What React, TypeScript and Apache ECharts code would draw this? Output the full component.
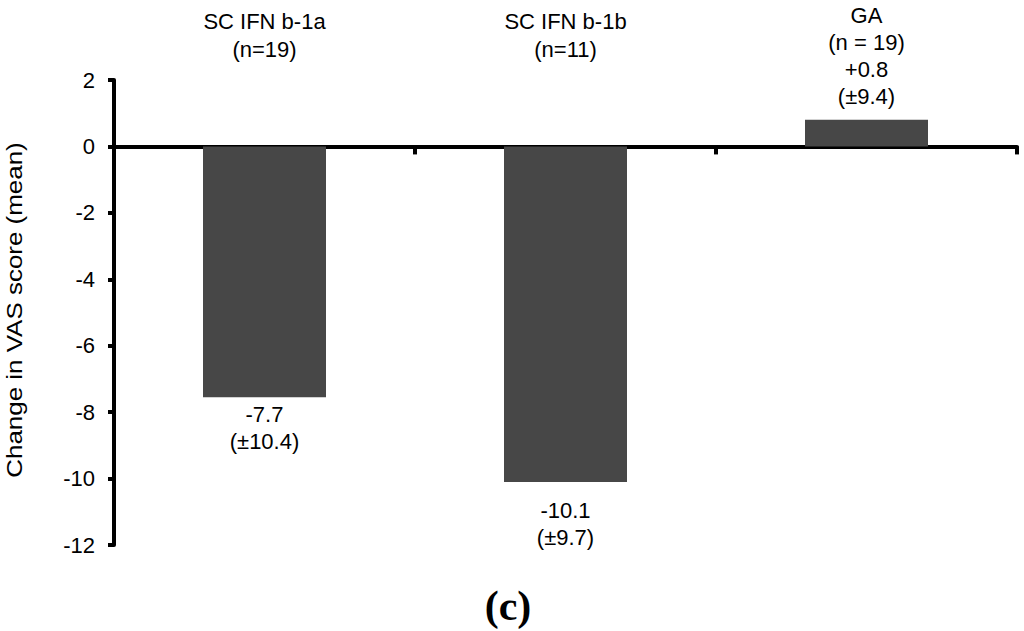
import React, { useEffect, useRef } from "react";
import * as echarts from "echarts";

const categories = ["SC IFN b-1a", "SC IFN b-1b", "GA"];
const groupSizes = ["(n=19)", "(n=11)", "(n = 19)"];
const barValues = [-7.55, -10.1, 0.8];
const meanLabels = ["-7.7", "-10.1", "+0.8"];
const sdLabels = ["(±10.4)", "(±9.7)", "(±9.4)"];
const yTicks = { min: -12, max: 2, interval: 2 };
const yAxisTitle = "Change in VAS score (mean)";
const panelLabel = "(c)";

const FONT = "Liberation Sans";

export default function App() {
  const ref = useRef<HTMLDivElement>(null);
  useEffect(() => {
    if (!ref.current) return;
    const chart = echarts.init(ref.current, null, { renderer: "svg" });
    const labelItems = barValues.map((v, i) => {
      const isTop = v >= 0;
      return {
        value: v,
        label: {
          position: isTop ? "top" : "bottom",
          distance: isTop ? 10 : i === 0 ? 4 : 15,
        },
      };
    });
    chart.setOption({
      animation: false,
      grid: { left: 114, right: 7, top: 80, bottom: 86, containLabel: false },
      xAxis: [
        {
          type: "category",
          data: categories,
          position: "bottom",
          axisLine: { onZero: true, lineStyle: { color: "#000", width: 4 } },
          axisTick: { show: true, length: 8, lineStyle: { color: "#000", width: 4 } },
          axisLabel: { show: false },
          splitLine: { show: false },
        },
        {
          type: "category",
          data: categories,
          position: "top",
          axisLine: { show: false, onZero: false },
          axisTick: { show: false },
          splitLine: { show: false },
          axisLabel: {
            show: true,
            margin: 17,
            fontFamily: FONT,
            fontSize: 22,
            lineHeight: 28,
            color: "#000",
            formatter: (val: string, idx: number) =>
              barValues[idx] < 0 ? `${val}\n${groupSizes[idx]}` : "",
          },
        },
      ],
      yAxis: {
        type: "value",
        min: yTicks.min,
        max: yTicks.max,
        interval: yTicks.interval,
        axisLine: { show: true, lineStyle: { color: "#000", width: 4 } },
        axisTick: { show: true, length: 6, lineStyle: { color: "#000", width: 4 } },
        splitLine: { show: false },
        axisLabel: {
          margin: 19,
          fontFamily: FONT,
          fontSize: 22,
          color: "#000",
        },
      },
      graphic: [
        {
          type: "text",
          x: 14,
          y: 310,
          rotation: Math.PI / 2,
          scaleX: 1.18,
          style: {
            text: yAxisTitle,
            font: `22px "${FONT}"`,
            fill: "#000",
            textAlign: "center",
            textVerticalAlign: "middle",
          },
        },
        {
          type: "text",
          x: 508,
          y: 606,
          style: {
            text: panelLabel,
            font: `bold 42px "Liberation Serif"`,
            fill: "#000",
            textAlign: "center",
            textVerticalAlign: "middle",
          },
        },
      ],
      series: [
        {
          type: "bar",
          xAxisIndex: 0,
          data: barValues,
          barWidth: 123,
          itemStyle: { color: "#474747" },
          z: 1,
        },
        {
          type: "scatter",
          xAxisIndex: 0,
          data: labelItems,
          symbolSize: 0,
          itemStyle: { color: "#000", opacity: 1 },
          silent: true,
          label: {
            show: true,
            fontFamily: FONT,
            fontSize: 22,
            lineHeight: 27,
            color: "#000",
            opacity: 1,
            align: "center",
            formatter: (p: any) => {
              const i = p.dataIndex;
              const body = `${meanLabels[i]}\n${sdLabels[i]}`;
              return barValues[i] >= 0
                ? `${categories[i]}\n${groupSizes[i]}\n${body}`
                : body;
            },
          },
          z: 3,
        },
      ],
    });
    return () => chart.dispose();
  }, []);
  return (
    <div
      ref={ref}
      style={{ position: "fixed", left: 0, top: 0, width: 1024, height: 631, background: "#fff" }}
    />
  );
}
